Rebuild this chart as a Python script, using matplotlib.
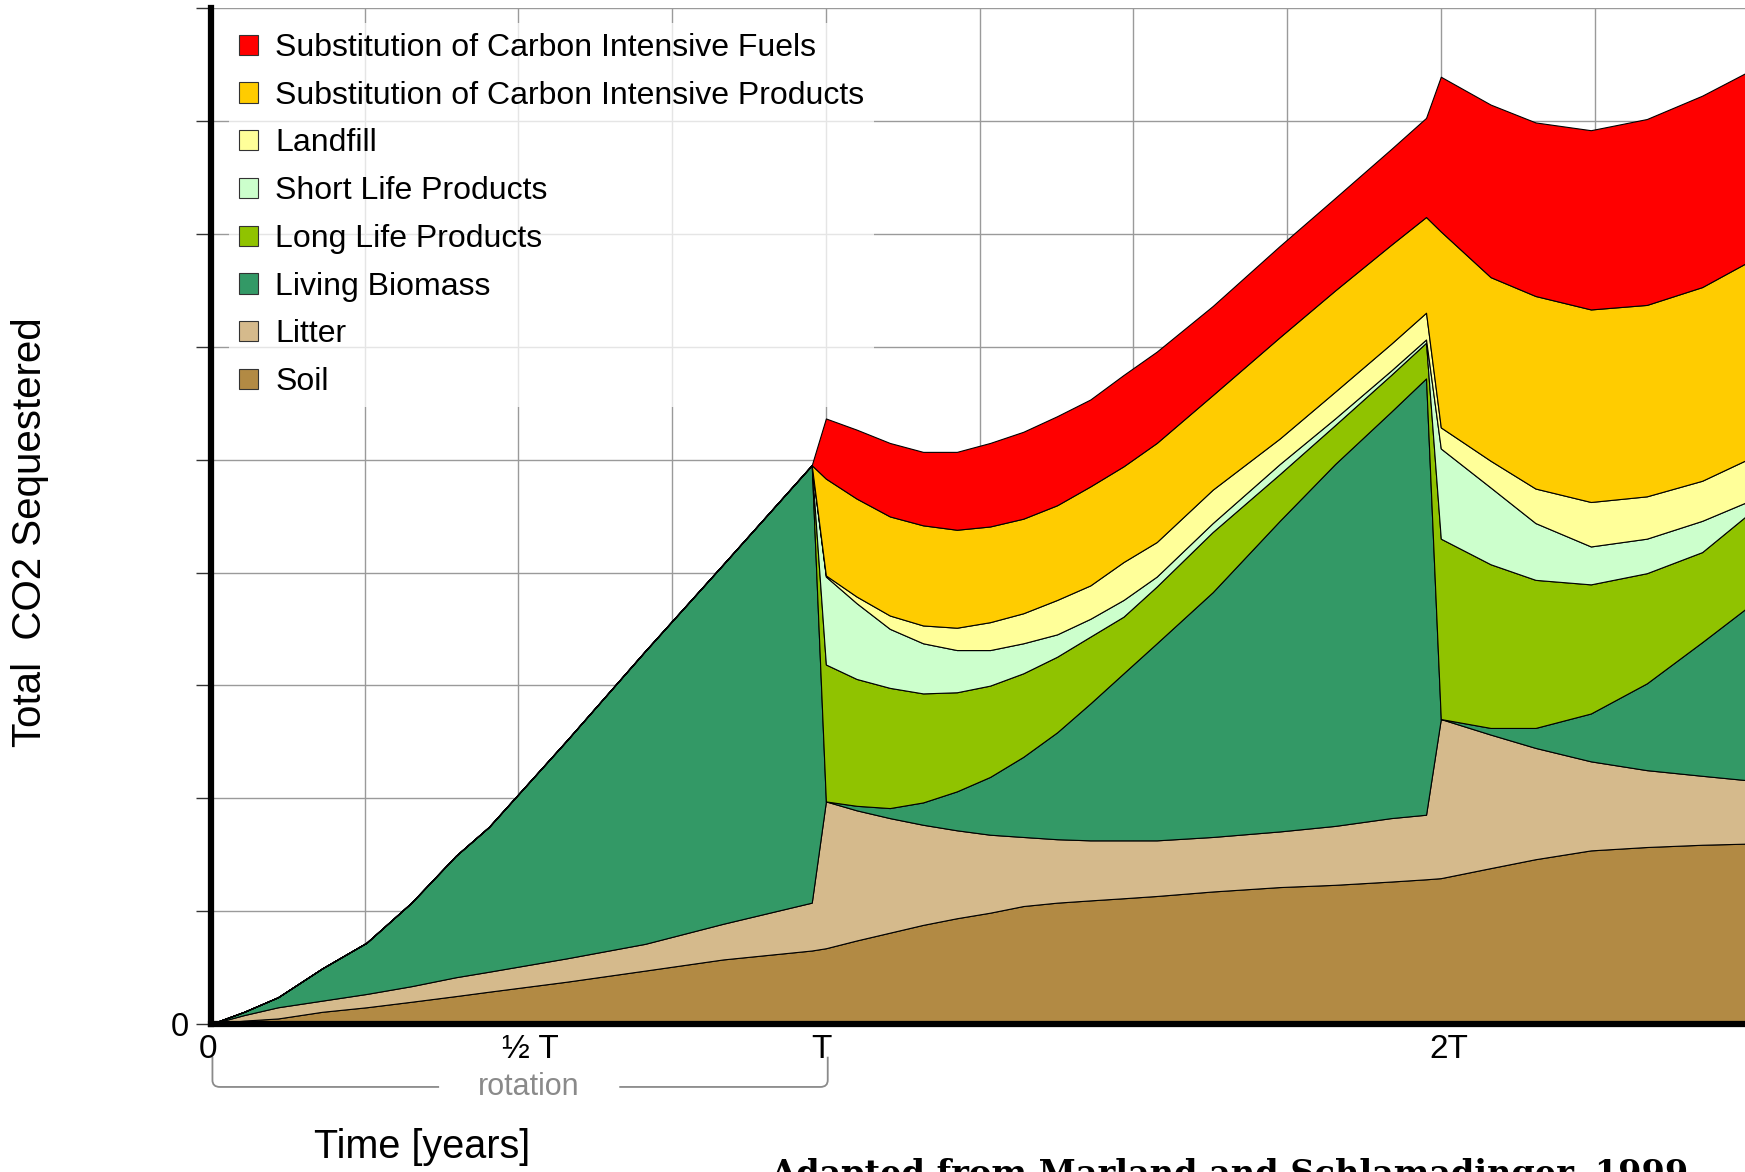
import numpy as np
import matplotlib
matplotlib.use("Agg")
import matplotlib.pyplot as plt
from matplotlib.patches import Patch, PathPatch
from matplotlib.path import Path

plt.rcParams["font.family"] = ["Liberation Sans", "DejaVu Sans"]

# time in units of the rotation length T (harvest at T and at 2T)
years = [0.000, 0.054, 0.109, 0.181, 0.253, 0.326, 0.398, 0.452, 0.579, 0.706, 0.833, 0.977,
         1.000, 1.050, 1.104, 1.158, 1.213, 1.267, 1.321, 1.376, 1.430, 1.484, 1.538, 1.629,
         1.738, 1.828, 1.919, 1.976,
         2.000, 2.081, 2.154, 2.244, 2.335, 2.425, 2.498]

# cumulative top of each pool (stacked from the bottom)
soil_top = [0, 0.030, 0.049, 0.108, 0.148, 0.197, 0.247, 0.286, 0.375, 0.473, 0.572, 0.651,
            0.671, 0.740, 0.809, 0.878, 0.937, 0.986, 1.045, 1.075, 1.095, 1.114, 1.134, 1.174,
            1.213, 1.233, 1.262, 1.282,
            1.292, 1.381, 1.460, 1.538, 1.568, 1.588, 1.598]
litter_top = [0, 0.079, 0.148, 0.207, 0.266, 0.335, 0.414, 0.463, 0.582, 0.710, 0.888, 1.075,
              1.972, 1.893, 1.824, 1.765, 1.716, 1.677, 1.657, 1.637, 1.627, 1.627, 1.627, 1.657,
              1.706, 1.755, 1.824, 1.854,
              2.702, 2.564, 2.446, 2.327, 2.249, 2.199, 2.160]
biomass_top = [0, 0.108, 0.237, 0.493, 0.720, 1.075, 1.489, 1.746, 2.515, 3.304, 4.073, 4.951,
               1.972, 1.933, 1.913, 1.963, 2.061, 2.189, 2.367, 2.584, 2.840, 3.107, 3.373, 3.826,
               4.458, 4.961, 5.424, 5.720,
               2.702, 2.623, 2.623, 2.751, 3.018, 3.383, 3.688]
long_life_top = [0, 0.108, 0.237, 0.493, 0.720, 1.075, 1.489, 1.746, 2.515, 3.304, 4.073, 4.951,
                 3.185, 3.057, 2.978, 2.929, 2.939, 2.998, 3.107, 3.254, 3.432, 3.609, 3.876, 4.359,
                 4.872, 5.306, 5.750, 6.036,
                 4.300, 4.073, 3.935, 3.895, 3.994, 4.181, 4.507]
short_life_top = [0, 0.108, 0.237, 0.493, 0.720, 1.075, 1.489, 1.746, 2.515, 3.304, 4.073, 4.951,
                  3.964, 3.728, 3.501, 3.373, 3.313, 3.313, 3.373, 3.452, 3.590, 3.757, 3.964, 4.438,
                  4.961, 5.365, 5.789, 6.065,
                  5.099, 4.753, 4.438, 4.231, 4.300, 4.458, 4.625]
landfill_top = [0, 0.108, 0.237, 0.493, 0.720, 1.075, 1.489, 1.746, 2.515, 3.304, 4.073, 4.951,
                3.974, 3.787, 3.619, 3.531, 3.511, 3.560, 3.639, 3.757, 3.886, 4.093, 4.270, 4.734,
                5.187, 5.602, 6.026, 6.302,
                5.286, 4.990, 4.744, 4.625, 4.675, 4.813, 5.000]
products_top = [0, 0.108, 0.237, 0.493, 0.720, 1.075, 1.489, 1.746, 2.515, 3.304, 4.073, 4.951,
                4.832, 4.655, 4.497, 4.418, 4.379, 4.408, 4.477, 4.596, 4.763, 4.941, 5.148, 5.572,
                6.085, 6.499, 6.903, 7.150,
                7.022, 6.617, 6.450, 6.331, 6.371, 6.529, 6.746]
fuels_top = [0, 0.108, 0.237, 0.493, 0.720, 1.075, 1.489, 1.746, 2.515, 3.304, 4.073, 4.951,
             5.365, 5.266, 5.148, 5.069, 5.069, 5.148, 5.247, 5.385, 5.533, 5.750, 5.957, 6.361,
             6.893, 7.318, 7.751, 8.028,
             8.393, 8.146, 7.988, 7.919, 8.018, 8.225, 8.432]

pool_names = ["Soil", "Litter", "Living Biomass", "Long Life Products", "Short Life Products",
              "Landfill", "Substitution of Carbon Intensive Products",
              "Substitution of Carbon Intensive Fuels"]
pool_tops = [soil_top, litter_top, biomass_top, long_life_top, short_life_top,
             landfill_top, products_top, fuels_top]
pool_colors = ["#B28A44", "#D5BA8C", "#339966", "#90C300", "#CCFFCC",
               "#FFFF99", "#FFCC00", "#FF0000"]

x_labels = ["0", "\u00bd T", "T", "2T"]
x_label_pos = [-0.005, 0.52, 0.992, 2.013]


fig = plt.figure(figsize=(17.45, 11.72), dpi=100)
ax = fig.add_axes([0.1209, 0.1263, 0.8791, 0.8667])

lower = np.zeros(len(years))
for top, color in zip(pool_tops, pool_colors):
    top = np.array(top)
    ax.fill_between(years, lower, top, facecolor=color, edgecolor="black",
                    linewidth=0.8, zorder=2)
    lower = top

ax.set_xlim(0, 2.4947)
ax.set_ylim(0, 9)

ax.set_xticks(np.arange(0, 2.5, 0.25))
ax.set_xticklabels([])
ax.tick_params(axis="x", length=0)
ax.set_yticks(range(10))
ax.set_yticklabels(["0"] + [""] * 9)
ax.tick_params(axis="y", direction="out", length=11, width=1, color="#333333",
               labelsize=23.5, pad=5)
ax.grid(True, color="#9a9a9a", linewidth=1.0)
ax.set_axisbelow(True)

for side in ["top", "right"]:
    ax.spines[side].set_visible(False)
for side in ["left", "bottom"]:
    ax.spines[side].set_linewidth(4.5)
    ax.spines[side].set_color("black")
    ax.spines[side].set_zorder(5)

for lab, pos in zip(x_labels, x_label_pos):
    ax.text(pos, -0.23, lab, ha="center", va="center", fontsize=24)

# bracket marking one rotation
gray = "#8a8a8a"
y0, y1 = -0.29, -0.558
rx, ry = 0.012, 0.06
left_leg = Path([(0.0024, y0), (0.0024, y1 + ry), (0.0024, y1), (0.0024 + rx, y1), (0.371, y1)],
                [Path.MOVETO, Path.LINETO, Path.CURVE3, Path.CURVE3, Path.LINETO])
right_leg = Path([(0.664, y1), (1.003 - rx, y1), (1.003, y1), (1.003, y1 + ry), (1.003, y0)],
                 [Path.MOVETO, Path.LINETO, Path.CURVE3, Path.CURVE3, Path.LINETO])
for p in [left_leg, right_leg]:
    ax.add_patch(PathPatch(p, facecolor="none", edgecolor=gray, linewidth=1.3, clip_on=False))
ax.text(0.516, y1, "rotation", ha="center", va="center", fontsize=22, color=gray)

handles = [Patch(facecolor=c, edgecolor="#333333", linewidth=0.8)
           for c in pool_colors[::-1]]
leg = ax.legend(handles, pool_names[::-1], loc="upper left",
                bbox_to_anchor=(0.1313, 0.9800), bbox_transform=fig.transFigure,
                fontsize=23, frameon=True, framealpha=0.75, edgecolor="none",
                facecolor="white", fancybox=False, borderpad=0.3, borderaxespad=0,
                handlelength=0.6, handleheight=0.6, handletextpad=0.55,
                labelspacing=0.555)
leg.set_zorder(6)

fig.text(0.0172, 0.5463, "Total  CO2 Sequestered", rotation=90, ha="center",
         va="center", fontsize=29)
fig.text(0.2418, 0.0216, "Time [years]", ha="center", va="center", fontsize=28.5)

# source line, cut by the lower edge as in the original
src = fig.text(0.4413, 0.0119, "Adapted from Marland and Schlamadinger, 1999",
               ha="left", va="top", fontsize=26, family="DejaVu Serif",
               fontweight="bold")
fig.canvas.draw()
w = src.get_window_extent().width
src.set_fontsize(26 * 922 / w)

fig.savefig("out.png", dpi=100)
